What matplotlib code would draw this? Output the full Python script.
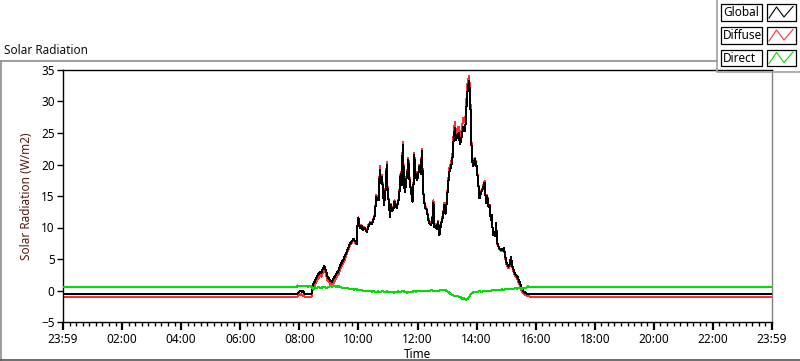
import matplotlib
matplotlib.use("Agg")
import matplotlib.pyplot as plt
from matplotlib.lines import Line2D
from matplotlib.patches import Rectangle
from matplotlib.ticker import MultipleLocator

# ---------------- data (hours since midnight) ----------------
time_h = [0.00, 7.95, 8.00, 8.05, 8.10, 8.13, 8.17, 8.42, 8.45, 8.50, 8.55, 8.60, 8.65, 8.70,
          8.75, 8.80, 8.85, 8.90, 8.95, 9.00, 9.05, 9.10, 9.15, 9.20, 9.27, 9.32, 9.38, 9.44,
          9.50, 9.55, 9.60, 9.66, 9.72, 9.78, 9.83, 9.88, 9.94, 9.97, 10.00, 10.03, 10.06,
          10.10, 10.15, 10.20, 10.28, 10.33, 10.40, 10.45, 10.51, 10.56, 10.60, 10.63, 10.68,
          10.70, 10.73, 10.76, 10.80, 10.84, 10.87, 10.92, 10.96, 10.99, 11.03, 11.07, 11.10,
          11.14, 11.18, 11.22, 11.26, 11.30, 11.34, 11.38, 11.41, 11.44, 11.47, 11.50, 11.53,
          11.55, 11.58, 11.61, 11.64, 11.67, 11.69, 11.72, 11.75, 11.79, 11.83, 11.86, 11.89,
          11.92, 11.95, 11.99, 12.03, 12.07, 12.11, 12.15, 12.18, 12.21, 12.26, 12.31, 12.36,
          12.39, 12.45, 12.50, 12.54, 12.57, 12.62, 12.65, 12.70, 12.74, 12.78, 12.82, 12.86,
          12.91, 12.95, 13.00, 13.03, 13.08, 13.14, 13.18, 13.23, 13.27, 13.30, 13.35, 13.39,
          13.44, 13.50, 13.55, 13.61, 13.65, 13.67, 13.70, 13.74, 13.78, 13.82, 13.85, 13.89,
          13.94, 14.00, 14.05, 14.10, 14.14, 14.20, 14.23, 14.27, 14.32, 14.36, 14.40, 14.44,
          14.48, 14.52, 14.55, 14.59, 14.63, 14.66, 14.70, 14.77, 14.85, 14.93, 15.00, 15.08,
          15.13, 15.16, 15.23, 15.30, 15.38, 15.45, 15.53, 15.60, 15.70, 15.80, 24.00]

global_wm2 = [-0.48, -0.48, -0.15, -0.05, -0.30, -0.10, -0.48, -0.48, 0.85, 1.2, 1.8, 2.3, 2.6, 3.0,
              2.8, 3.5, 3.9, 3.2, 2.2, 1.9, 1.5, 1.4, 1.8, 2.2, 2.8, 3.1, 3.9, 4.5,
              5.0, 5.6, 6.1, 6.8, 7.5, 7.8, 8.2, 7.9, 7.4, 10.5, 11.5, 10.2, 9.9,
              10.3, 9.6, 10.0, 9.3, 10.1, 10.7, 10.5, 11.2, 12.0, 14.9, 14.5, 14.3,
              16.5, 19.2, 17.0, 18.0, 15.0, 13.6, 16.0, 20.0, 15.4, 14.0, 11.7, 13.6,
              12.6, 12.8, 14.1, 13.3, 13.1, 14.0, 14.6, 17.8, 18.5, 16.8, 23.1, 19.0,
              16.5, 15.7, 17.0, 18.4, 19.0, 20.7, 18.0, 16.8, 15.5, 14.1, 16.0, 21.5,
              19.0, 18.1, 17.5, 18.7, 19.7, 18.5, 22.1, 17.5, 14.6, 13.1, 12.8, 11.5,
              10.7, 10.4, 11.0, 13.9, 10.1, 10.3, 9.8, 10.9, 8.8, 10.0, 10.9, 11.8,
              13.6, 12.2, 14.5, 16.5, 18.9, 19.7, 20.7, 24.5, 25.8, 23.9, 24.5, 25.0,
              23.2, 24.5, 26.0, 25.3, 28.0, 30.8, 31.9, 33.2, 31.3, 23.9, 20.5, 19.7,
              20.9, 19.7, 17.3, 14.6, 15.4, 16.0, 16.5, 17.1, 13.9, 15.0, 13.3, 13.5,
              11.2, 12.0, 8.8, 9.3, 8.6, 10.7, 7.5, 6.7, 6.4, 6.7, 4.55, 3.8,
              4.2, 5.35, 3.5, 2.7, 2.2, 1.4, 0.3, -0.2, -0.48, -0.48, -0.48]

diffuse_wm2 = [-0.96, -0.96, -0.65, -0.60, -0.80, -0.65, -0.96, -0.96, 0.2, 0.6, 1.2, 1.7, 2.0, 2.5,
               2.2, 3.0, 3.4, 2.7, 1.7, 1.4, 1.0, 0.9, 1.1, 1.5, 2.2, 2.5, 3.3, 4.0,
               4.5, 5.1, 5.8, 6.5, 7.2, 7.6, 8.0, 7.7, 7.3, 10.5, 11.6, 10.3, 10.0,
               10.4, 9.7, 10.1, 9.4, 10.3, 10.9, 10.7, 11.4, 12.2, 15.2, 14.8, 14.5,
               16.8, 19.7, 17.3, 18.3, 15.3, 13.8, 16.3, 20.4, 15.7, 14.2, 11.9, 13.8,
               12.8, 13.0, 14.3, 13.5, 13.3, 14.2, 14.8, 18.1, 18.8, 17.0, 23.6, 19.3,
               16.7, 15.9, 17.2, 18.7, 19.3, 21.1, 18.3, 17.0, 15.7, 14.3, 16.2, 21.9,
               19.3, 18.3, 17.7, 18.9, 20.0, 18.7, 22.5, 17.7, 14.8, 13.3, 13.0, 11.7,
               10.9, 10.6, 11.2, 14.3, 10.3, 10.5, 10.0, 11.1, 9.0, 10.2, 11.2, 12.0,
               13.9, 12.4, 14.8, 16.9, 19.4, 20.3, 21.4, 25.4, 26.7, 24.8, 25.5, 26.0,
               24.3, 25.7, 27.4, 26.7, 29.3, 32.1, 33.1, 34.0, 32.2, 24.5, 20.9, 20.0,
               21.1, 19.8, 17.5, 14.8, 15.6, 16.2, 16.7, 17.4, 14.1, 15.2, 13.4, 13.6,
               11.2, 12.0, 8.8, 9.3, 8.6, 10.7, 7.4, 6.6, 6.2, 6.5, 4.3, 3.5,
               3.9, 5.1, 3.2, 2.4, 1.8, 1.0, -0.1, -0.6, -0.85, -0.96, -0.96]

direct_time_h = [0.00, 7.90, 7.93, 7.98, 8.03, 8.08, 8.13, 8.20, 8.30, 8.38, 8.43, 8.47, 8.52, 8.58,
                 8.65, 8.72, 8.78, 8.85, 8.92, 9.00, 9.06, 9.12, 9.18, 9.25, 9.32, 9.40, 9.48,
                 9.55, 9.62, 9.70, 9.78, 9.85, 9.93, 10.00, 10.08, 10.15, 10.22, 10.30, 10.38,
                 10.45, 10.52, 10.60, 10.67, 10.75, 10.82, 10.90, 10.97, 11.05, 11.12, 11.20,
                 11.28, 11.35, 11.42, 11.50, 11.57, 11.65, 11.72, 11.80, 11.88, 11.95, 12.03,
                 12.10, 12.18, 12.25, 12.33, 12.40, 12.48, 12.55, 12.63, 12.70, 12.78, 12.85,
                 12.92, 13.00, 13.07, 13.13, 13.20, 13.27, 13.33, 13.40, 13.47, 13.53, 13.58,
                 13.65, 13.70, 13.76, 13.82, 13.88, 13.95, 14.02, 14.10, 14.18, 14.25, 14.33,
                 14.40, 14.48, 14.55, 14.63, 14.70, 14.78, 14.85, 14.93, 15.00, 15.08, 15.15,
                 15.23, 15.30, 15.38, 15.45, 15.53, 15.60, 15.68, 15.75, 15.80, 15.85, 24.00]

direct_wm2 = [0.48, 0.48, 0.80, 0.75, 0.70, 0.78, 0.65, 0.70, 0.62, 0.70, 0.45, 0.20, 0.50, 0.40,
              0.60, 0.35, 0.50, 0.55, 0.40, 0.55, 0.70, 0.60, 0.75, 0.60, 0.70, 0.50, 0.45,
              0.35, 0.40, 0.25, 0.30, 0.15, 0.20, 0.05, 0.10, -0.05, 0.00, -0.15, -0.05,
              -0.20, -0.10, -0.30, -0.15, -0.20, -0.10, -0.25, -0.15, -0.30, -0.20, -0.35,
              -0.20, -0.15, -0.25, -0.10, -0.20, -0.35, -0.20, -0.25, -0.10, -0.20, -0.05,
              -0.15, 0.00, -0.10, 0.00, -0.10, 0.05, -0.05, 0.00, -0.10, 0.10, 0.00,
              0.15, -0.10, -0.30, -0.60, -0.75, -0.90, -0.80, -1.00, -1.10, -1.35, -1.20,
              -1.45, -1.30, -0.90, -0.50, -0.30, -0.20, -0.30, -0.10, -0.20, -0.05, -0.15,
              0.00, -0.05, 0.10, 0.00, 0.10, 0.05, 0.20, 0.10, 0.25, 0.20, 0.30,
              0.25, 0.35, 0.30, 0.40, 0.30, 0.35, 0.45, 0.65, 0.60, 0.48, 0.48]

tick_hours = [0, 2, 4, 6, 8, 10, 12, 14, 16, 18, 20, 22, 24]
tick_labels = ["23:59", "02:00", "04:00", "06:00", "08:00", "10:00", "12:00",
               "14:00", "16:00", "18:00", "20:00", "22:00", "23:59"]
series_names = ["Global", "Diffuse", "Direct"]
series_colors = ["#000000", "#ff3030", "#00e000"]

# ---------------- figure ----------------
W, H = 800, 361
plt.rcParams['font.family'] = ['Noto Sans', 'DejaVu Sans']
fig = plt.figure(figsize=(W / 100, H / 100), dpi=100)
fig.patch.set_facecolor("white")


def fx(x):
    return x / W


def fy(y):
    return 1 - y / H


# outer panel frame (gray)
fig.add_artist(Line2D([fx(0.5), fx(717)], [fy(61), fy(61)], color="#8c8c8c", lw=1.2,
                      transform=fig.transFigure))
fig.add_artist(Line2D([fx(0.8), fx(0.8)], [fy(61), fy(360)], color="#8c8c8c", lw=1.2,
                      transform=fig.transFigure))
fig.add_artist(Line2D([fx(0), fx(800)], [fy(360), fy(360)], color="#555555", lw=1.2,
                      transform=fig.transFigure))

fig.text(fx(4), fy(51), "Solar Radiation", ha="left", va="center", fontsize=8.5, color="#111111")

left, right, top, bottom = 63, 772, 70, 322
ax = fig.add_axes([fx(left), fy(bottom), fx(right - left), (bottom - top) / H])

ax.plot(time_h, diffuse_wm2, color=series_colors[1], lw=0.72, zorder=2, antialiased=False)
ax.plot(time_h, global_wm2, color=series_colors[0], lw=0.72, zorder=3, antialiased=False)
ax.plot(direct_time_h, direct_wm2, color=series_colors[2], lw=0.72, zorder=4, antialiased=False)

ax.set_xlim(0, 24)
ax.set_ylim(-5, 35)
ax.set_yticks([-5, 0, 5, 10, 15, 20, 25, 30, 35])
ax.set_xticks(tick_hours)
ax.set_xticklabels(tick_labels)
ax.xaxis.set_minor_locator(MultipleLocator(2 / 9))
ax.tick_params(axis="both", which="major", direction="out", length=4, width=1,
               labelsize=8.5, colors="#000000", pad=2)
ax.tick_params(axis="x", which="major", length=6, width=1.6)
ax.tick_params(axis="x", which="minor", direction="out", length=3, width=1)
for s in ["left", "bottom", "top"]:
    ax.spines[s].set_color("#000000")
    ax.spines[s].set_linewidth(1.0)
ax.spines["right"].set_color("#808080")
ax.spines["right"].set_linewidth(1.0)

ax.set_xlabel("Time", fontsize=8.5, labelpad=1)
ax.set_ylabel("Solar Radiation (W/m2)", fontsize=8.5, color="#5a1a10", labelpad=6)

# ---------------- legend panel ----------------
fig.add_artist(Line2D([fx(717), fx(717), fx(800)], [fy(0), fy(71.5), fy(71.5)],
                      color="#a0a0a0", lw=1.2, transform=fig.transFigure))
row_tops = [4, 27, 49.5]
for name, col, ytop in zip(series_names, series_colors, row_tops):
    h = 16.5
    fig.add_artist(Rectangle((fx(720.5), fy(ytop + h)), fx(41), h / H, fill=False,
                             edgecolor="#000000", lw=0.9, transform=fig.transFigure))
    fig.text(fx(723), fy(ytop + h / 2 + 0.5), name, ha="left", va="center",
             fontsize=8.5, color="#000000")
    fig.add_artist(Rectangle((fx(767), fy(ytop + h)), fx(29), h / H, fill=False,
                             edgecolor="#000000", lw=0.9, transform=fig.transFigure))
    zx = [769, 776.5, 784, 793]
    zy = [ytop + 14, ytop + 3, ytop + 13, ytop + 2.5]
    fig.add_artist(Line2D([fx(v) for v in zx], [fy(v) for v in zy], color=col, lw=0.8,
                          transform=fig.transFigure))

fig.savefig("out.png", dpi=100, facecolor="white")
